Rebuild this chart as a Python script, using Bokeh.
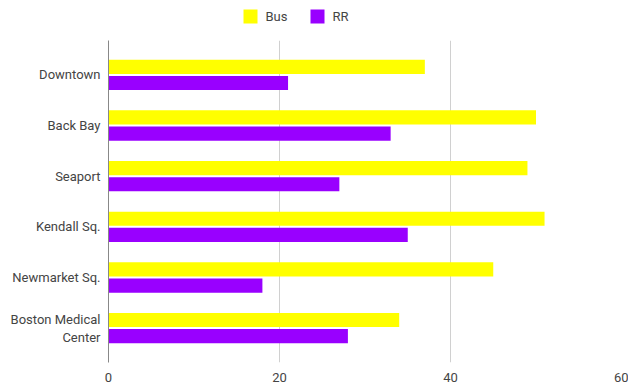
from bokeh.plotting import figure
from bokeh.layouts import column
from bokeh.core.properties import value
from bokeh.models import ColumnDataSource, FactorRange, Range1d, FixedTicker
from bokeh.transform import dodge
from bokeh.embed import file_html
from bokeh.resources import INLINE

categories = ["Downtown", "Back Bay", "Seaport", "Kendall Sq.", "Newmarket Sq.", "Boston Medical\nCenter"]
bus = [37, 50, 49, 51, 45, 34]
rr = [21, 33, 27, 35, 18, 28]
x_ticks = [0, 20, 40, 60]
series_names = ["Bus", "RR"]
series_colors = ["#FFFF00", "#9900FF"]

source = ColumnDataSource(data=dict(cat=categories, bus=bus, rr=rr))

p = figure(width=628, height=350, output_backend="svg", toolbar_location=None,
           y_range=FactorRange(factors=list(reversed(categories)), range_padding=0.06),
           x_range=Range1d(0, 60),
           min_border_left=108, min_border_right=7, min_border_top=0, min_border_bottom=28)

p.hbar(y=dodge("cat", 0.16, range=p.y_range), right="bus", left=0, height=0.28,
       source=source, fill_color=series_colors[0], line_color=None)
p.hbar(y=dodge("cat", -0.16, range=p.y_range), right="rr", left=0, height=0.28,
       source=source, fill_color=series_colors[1], line_color=None)

p.outline_line_color = None
p.ygrid.grid_line_color = None
p.xgrid.grid_line_color = "#d0d0d0"
p.xgrid.grid_line_width = 1
p.xaxis.ticker = FixedTicker(ticks=x_ticks)
p.xaxis.axis_line_color = None
p.xaxis.major_tick_line_color = None
p.xaxis.minor_tick_line_color = None
p.xaxis.major_label_text_color = "#444444"
p.xaxis.major_label_text_font = "Roboto"
p.xaxis.major_label_text_font_size = "13px"
p.xaxis.major_label_standoff = 4

p.yaxis.axis_line_color = "#888888"
p.yaxis.axis_line_width = 1
p.yaxis.major_tick_line_color = None
p.yaxis.minor_tick_line_color = None
p.yaxis.major_label_text_color = "#444444"
p.yaxis.major_label_text_font = "Roboto"
p.yaxis.major_label_text_font_size = "13px"
p.yaxis.major_label_standoff = 2

# legend strip above the chart; its frame is aligned with the chart's frame (px 108..621)
lf = figure(width=628, height=40, output_backend="svg", toolbar_location=None,
            x_range=Range1d(108, 621), y_range=Range1d(0, 40),
            min_border_left=108, min_border_right=7, min_border_top=0, min_border_bottom=0)
lf.axis.visible = False
lf.grid.visible = False
lf.outline_line_color = None
swatch_x = [250, 317]
label_x = [265, 332]
lf.rect(x=swatch_x, y=[24] * len(series_names), width=14, height=14,
        fill_color=series_colors, line_color=None)
lf.text(x=label_x, y=[24] * len(series_names), text=series_names,
        text_baseline="middle", text_align="left", text_font=value("Roboto"),
        text_font_size="13px", text_color="#444444")

layout = column(lf, p, spacing=0)
open("out.html", "w").write(file_html(layout, INLINE))
